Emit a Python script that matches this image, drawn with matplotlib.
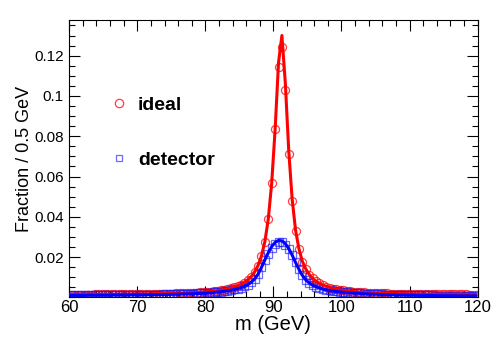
import numpy as np
import matplotlib
matplotlib.use('Agg')
import matplotlib.pyplot as plt
from matplotlib.lines import Line2D
from matplotlib.ticker import MultipleLocator

plt.rcParams['font.family'] = ['Liberation Sans', 'DejaVu Sans']

# bin centres, 0.5 GeV bins from 60 to 120
mass = np.arange(60.25, 120.0, 0.5)

ideal = [
    0.0014, 0.0014, 0.0014, 0.0014, 0.0014, 0.0014, 0.0014, 0.0015, 0.0015, 0.0015,
    0.0015, 0.0015, 0.0015, 0.0015, 0.0015, 0.0015, 0.0016, 0.0016, 0.0016, 0.0016,
    0.0016, 0.0017, 0.0017, 0.0017, 0.0017, 0.0018, 0.0018, 0.0018, 0.0019, 0.0019,
    0.0019, 0.0020, 0.0021, 0.0021, 0.0022, 0.0023, 0.0023, 0.0024, 0.0025, 0.0026,
    0.0028, 0.0029, 0.0031, 0.0033, 0.0036, 0.0038, 0.0042, 0.0046, 0.0051, 0.0057,
    0.0064, 0.0074, 0.0087, 0.0103, 0.0126, 0.0158, 0.0205, 0.0277, 0.0389, 0.0568,
    0.0836, 0.1142, 0.1245, 0.1032, 0.0714, 0.0480, 0.0330, 0.0239, 0.0178, 0.0141,
    0.0114, 0.0095, 0.0080, 0.0070, 0.0061, 0.0054, 0.0049, 0.0044, 0.0040, 0.0037,
    0.0035, 0.0032, 0.0030, 0.0029, 0.0027, 0.0026, 0.0025, 0.0024, 0.0023, 0.0022,
    0.0022, 0.0021, 0.0020, 0.0020, 0.0019, 0.0019, 0.0018, 0.0018, 0.0018, 0.0017,
    0.0017, 0.0017, 0.0017, 0.0016, 0.0016, 0.0016, 0.0016, 0.0016, 0.0016, 0.0015,
    0.0015, 0.0015, 0.0015, 0.0015, 0.0015, 0.0015, 0.0015, 0.0014, 0.0014, 0.0014,
]

ideal_fit = [
    0.0015, 0.0015, 0.0015, 0.0015, 0.0015, 0.0015, 0.0015, 0.0016, 0.0016, 0.0016,
    0.0016, 0.0016, 0.0016, 0.0016, 0.0016, 0.0016, 0.0017, 0.0017, 0.0017, 0.0017,
    0.0017, 0.0018, 0.0018, 0.0018, 0.0018, 0.0019, 0.0019, 0.0019, 0.0020, 0.0020,
    0.0020, 0.0021, 0.0022, 0.0022, 0.0023, 0.0024, 0.0024, 0.0025, 0.0026, 0.0027,
    0.0029, 0.0030, 0.0032, 0.0034, 0.0037, 0.0039, 0.0043, 0.0047, 0.0052, 0.0058,
    0.0065, 0.0075, 0.0088, 0.0104, 0.0127, 0.0159, 0.0206, 0.0278, 0.0390, 0.0568,
    0.0832, 0.1165, 0.1300, 0.1065, 0.0730, 0.0490, 0.0335, 0.0242, 0.0180, 0.0142,
    0.0115, 0.0096, 0.0081, 0.0071, 0.0062, 0.0055, 0.0050, 0.0045, 0.0041, 0.0038,
    0.0036, 0.0033, 0.0031, 0.0030, 0.0028, 0.0027, 0.0026, 0.0025, 0.0024, 0.0023,
    0.0023, 0.0022, 0.0021, 0.0021, 0.0020, 0.0020, 0.0019, 0.0019, 0.0019, 0.0018,
    0.0018, 0.0018, 0.0018, 0.0017, 0.0017, 0.0017, 0.0017, 0.0017, 0.0017, 0.0016,
    0.0016, 0.0016, 0.0016, 0.0016, 0.0016, 0.0016, 0.0016, 0.0015, 0.0015, 0.0015,
]

detector = [
    0.0010, 0.0010, 0.0010, 0.0010, 0.0010, 0.0011, 0.0011, 0.0011, 0.0011, 0.0011,
    0.0011, 0.0011, 0.0012, 0.0012, 0.0012, 0.0012, 0.0012, 0.0012, 0.0013, 0.0013,
    0.0013, 0.0013, 0.0013, 0.0014, 0.0014, 0.0014, 0.0014, 0.0015, 0.0015, 0.0015,
    0.0016, 0.0016, 0.0017, 0.0017, 0.0018, 0.0018, 0.0019, 0.0020, 0.0020, 0.0021,
    0.0022, 0.0023, 0.0025, 0.0027, 0.0029, 0.0031, 0.0033, 0.0036, 0.0040, 0.0044,
    0.0049, 0.0056, 0.0064, 0.0076, 0.0092, 0.0116, 0.0150, 0.0185, 0.0218, 0.0247,
    0.0266, 0.0275, 0.0274, 0.0262, 0.0240, 0.0210, 0.0174, 0.0140, 0.0110, 0.0088,
    0.0072, 0.0061, 0.0053, 0.0047, 0.0042, 0.0038, 0.0035, 0.0032, 0.0030, 0.0028,
    0.0026, 0.0025, 0.0023, 0.0022, 0.0021, 0.0020, 0.0019, 0.0018, 0.0017, 0.0016,
    0.0016, 0.0015, 0.0014, 0.0014, 0.0013, 0.0013, 0.0012, 0.0012, 0.0012, 0.0011,
    0.0011, 0.0011, 0.0010, 0.0010, 0.0010, 0.0010, 0.0010, 0.0009, 0.0009, 0.0009,
    0.0009, 0.0009, 0.0009, 0.0009, 0.0008, 0.0008, 0.0008, 0.0008, 0.0008, 0.0008,
]

detector_fit = [
    0.0010, 0.0010, 0.0010, 0.0010, 0.0010, 0.0011, 0.0011, 0.0011, 0.0011, 0.0011,
    0.0011, 0.0011, 0.0012, 0.0012, 0.0012, 0.0012, 0.0012, 0.0012, 0.0013, 0.0013,
    0.0013, 0.0013, 0.0013, 0.0014, 0.0014, 0.0014, 0.0014, 0.0015, 0.0015, 0.0015,
    0.0016, 0.0016, 0.0017, 0.0017, 0.0018, 0.0018, 0.0019, 0.0020, 0.0020, 0.0021,
    0.0022, 0.0023, 0.0025, 0.0027, 0.0029, 0.0031, 0.0033, 0.0036, 0.0040, 0.0044,
    0.0049, 0.0056, 0.0064, 0.0076, 0.0092, 0.0116, 0.0150, 0.0187, 0.0222, 0.0253,
    0.0273, 0.0283, 0.0281, 0.0267, 0.0243, 0.0211, 0.0174, 0.0140, 0.0110, 0.0088,
    0.0072, 0.0061, 0.0053, 0.0047, 0.0042, 0.0038, 0.0035, 0.0032, 0.0030, 0.0028,
    0.0026, 0.0025, 0.0023, 0.0022, 0.0021, 0.0020, 0.0019, 0.0018, 0.0017, 0.0016,
    0.0016, 0.0015, 0.0014, 0.0014, 0.0013, 0.0013, 0.0012, 0.0012, 0.0012, 0.0011,
    0.0011, 0.0011, 0.0010, 0.0010, 0.0010, 0.0010, 0.0010, 0.0009, 0.0009, 0.0009,
    0.0009, 0.0009, 0.0009, 0.0009, 0.0008, 0.0008, 0.0008, 0.0008, 0.0008, 0.0008,
]

labels = ['ideal', 'detector']

fig = plt.figure(figsize=(4.98, 3.43), dpi=100)
ax = fig.add_axes([0.139, 0.1327, 0.820, 0.809])

# markers first, fitted curves on top
ax.plot(mass, ideal, 'o', ms=5.8, mfc='none', mec=(1, 0, 0, 0.75), mew=0.9, zorder=2)
ax.plot(mass, detector, 's', ms=5.4, mfc='none', mec=(0.1, 0.1, 1, 0.65), mew=0.9, zorder=2)
ax.plot(mass, ideal_fit, '-', color='red', lw=2.2, zorder=3)
ax.plot(mass, detector_fit, '-', color='blue', lw=2.2, zorder=3)

ax.set_xlim(60, 120)
ax.set_ylim(0, 0.1377)
ax.xaxis.set_major_locator(MultipleLocator(10))
ax.xaxis.set_minor_locator(MultipleLocator(2))
ax.set_yticks([0.02, 0.04, 0.06, 0.08, 0.1, 0.12])
ax.set_yticklabels(['0.02', '0.04', '0.06', '0.08', '0.1', '0.12'])
ax.yaxis.set_minor_locator(MultipleLocator(0.005))
ax.tick_params(which='both', direction='in', top=True, right=True, width=0.8)
ax.tick_params(axis='x', pad=2, labelsize=12)
ax.tick_params(axis='y', pad=4, labelsize=11)
ax.tick_params(which='major', length=8)
ax.tick_params(which='minor', length=4)
for s in ax.spines.values():
    s.set_linewidth(0.8)

ax.set_xlabel('m (GeV)', fontsize=14.5, labelpad=0)
ax.set_ylabel('Fraction / 0.5 GeV', fontsize=13, labelpad=1)

handles = [
    Line2D([], [], ls='none', marker='o', ms=6, mfc='none', mec=(1, 0, 0, 0.75), mew=0.9),
    Line2D([], [], ls='none', marker='s', ms=5, mfc='none', mec=(0.1, 0.1, 1, 0.65), mew=0.9),
]
ax.legend(handles, labels, loc='center left', bbox_to_anchor=(0.097, 0.594), frameon=False,
          prop={'weight': 'bold', 'size': 14}, handlelength=1.0, handletextpad=0.5,
          labelspacing=1.95, borderpad=0, borderaxespad=0)

fig.savefig('out.png', dpi=100)
